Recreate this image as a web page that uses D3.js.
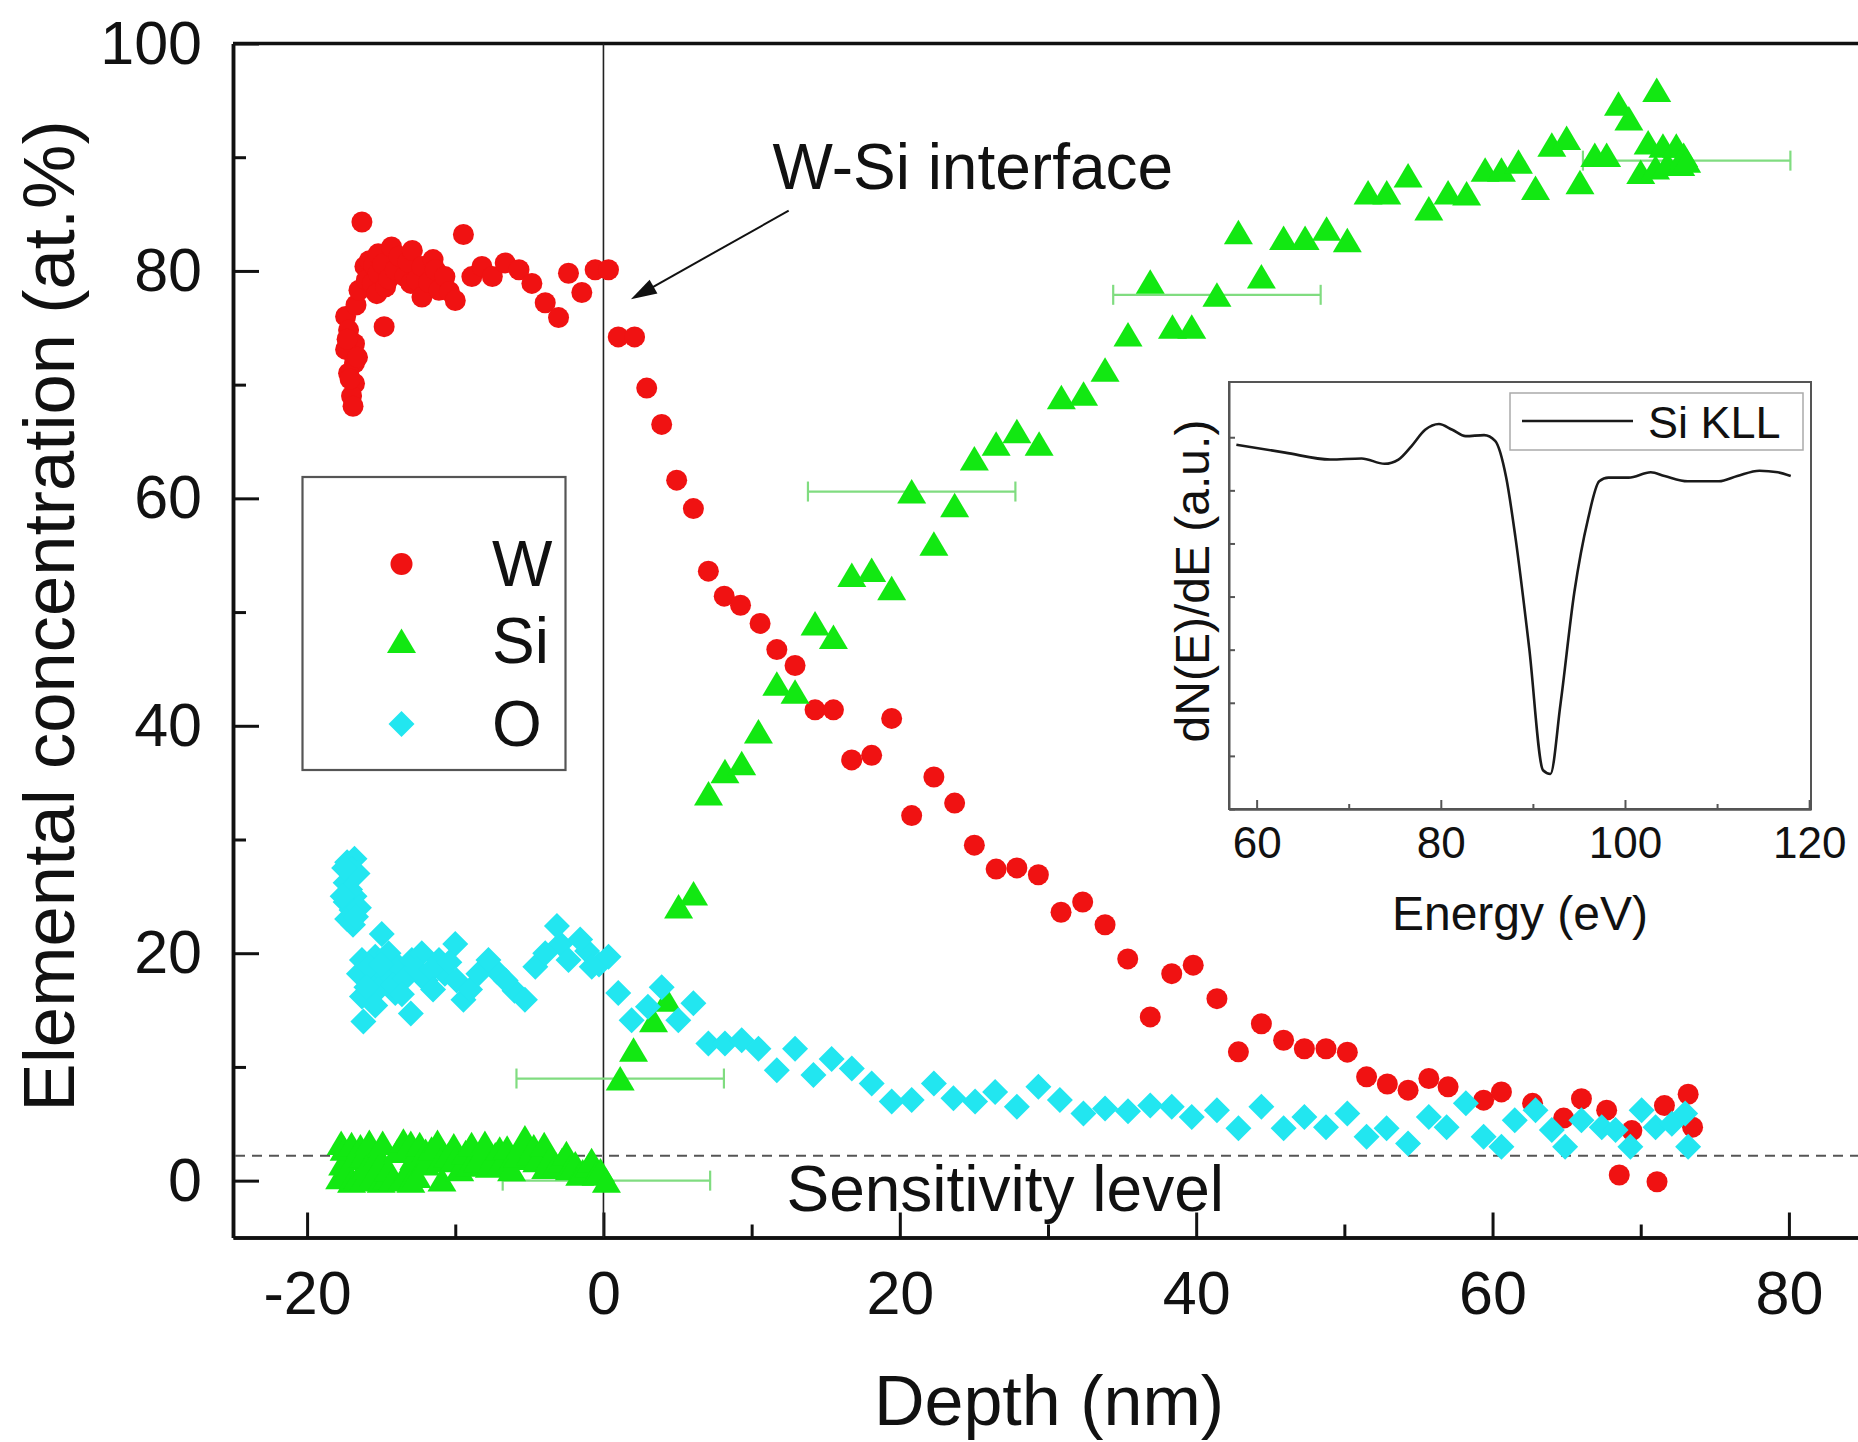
<!DOCTYPE html>
<html>
<head>
<meta charset="utf-8">
<script src="https://cdn.jsdelivr.net/npm/d3@7"></script>
<style>
body { margin: 0; background: #fff; }
svg { display: block; font-family: "Liberation Sans", Arial, Helvetica, sans-serif; }
</style>
</head>
<body>
<svg id="chart" width="1858" height="1442"></svg>
<script>
/* --- Data: --- */
// W (red circles): depth (nm), concentration (at.%)
var wDepth = [-17.4,-17.2,-16.8,-17.4,-16.8,-17.2,-16.8,-17.0,-16.9,-16.7,-17.3,-16.6,-17.1,
    -16.5,-16.3,-16.1,-16.0,-15.8,-15.6,-15.5,-15.3,-15.2,-15.2,-14.9,-14.8,-14.7,-14.5,-14.3,-14.05,-13.8,-13.4,-13.2,-13.0,-12.9,-12.6,-12.25,-12.25,-11.8,-11.5,-11.35,-11.1,-10.7,-10.4,-10.0,-9.45,
    -8.88,-8.2,-7.5,-6.63,-5.7,-4.83,-3.93,-3.03,-2.36,-1.46,-0.56,0.34,
    1.0,2.1,2.92,3.93,4.94,6.07,7.08,8.15,9.25,10.57,11.7,12.93,14.28,15.52,16.75,18.1,19.45,20.8,22.3,23.7,25.03,26.5,27.9,29.35,30.88,32.34,33.85,35.38,36.9,38.35,39.8,
    41.4,42.85,44.4,45.9,47.3,48.76,50.2,51.5,52.9,54.3,55.7,57.0,59.4,60.6,62.7,64.8,66.0,67.7,68.55,69.4,71.1,71.6,73.2,73.5];
var wConc = [76.0,74.8,73.6,73.1,71.9,71.0,70.1,69.0,68.1,77.0,74.0,72.4,70.5,
    78.3,84.3,80.4,79.2,80.9,78.9,80.5,78.0,81.5,79.8,80.6,75.1,78.6,79.3,82.1,80.1,81.3,79.5,80.8,78.9,81.8,79.2,80.4,77.7,79.0,81.0,80.1,78.3,79.5,78.2,77.4,83.2,
    79.5,80.4,79.5,80.7,80.1,78.9,77.2,75.9,79.8,78.1,80.1,80.1,
    74.2,74.2,69.7,66.5,61.6,59.1,53.6,51.4,50.6,49.0,46.7,45.3,41.4,41.4,37.0,37.4,40.65,32.1,35.5,33.2,29.5,27.4,27.5,26.9,23.6,24.5,22.5,19.5,14.4,18.2,18.95,
    16.0,11.33,13.8,12.35,11.6,11.6,11.3,9.13,8.5,7.96,8.98,8.25,7.08,7.8,6.8,5.5,7.2,6.2,0.5,4.4,-0.1,6.6,7.6,4.7];

// Si (green triangles)
var siDepth = [-17.8,-17.7,-17.6,-17.5,-17.3,-17.0,-17.0,-16.8,-16.6,-16.4,-16.2,-16.2,-16.0,-15.8,-15.5,-15.2,-15.0,-15.0,-14.9,-14.6,-14.5,-14.2,-13.9,-13.6,-13.5,-13.2,-13.0,-13.0,-12.8,-12.6,-12.4,-12.0,-12.0,-11.6,-11.2,-11.0,-10.9,-10.5,-10.1,-10.0,-9.7,-9.3,-9.0,-8.9,-8.5,-8.1,-8.0,-7.7,-7.3,-7.0,-6.9,-6.5,-6.2,-6.1,-5.8,-5.6,-5.3,-4.9,-4.7,-4.5,-4.0,-3.9,-3.6,-3.2,-2.8,-2.5,-2.3,-1.9,-1.6,-1.4,-1.0,-0.8,-0.5,-0.2,0.2,
    1.13,2.03,3.38,4.28,5.07,6.08,7.09,8.2,9.33,10.46,11.7,12.93,14.28,15.52,16.76,18.1,19.45,20.8,22.3,23.7,25.03,26.5,27.9,29.4,30.9,32.4,33.85,35.4,36.9,38.4,39.7,
    41.4,42.85,44.4,45.9,47.35,48.8,50.2,51.6,52.86,54.3,55.7,57.0,58.25,59.5,60.6,61.75,62.9,64.0,65.0,65.9,66.9,67.7,68.5,69.2,70.0,70.5,71.0,71.08,71.5,71.8,72.4,72.7,72.9,73.1];
var siConc = [0.3,3.3,1.5,2.8,0.8,3.2,0.0,2.0,0.2,3.0,0.1,2.2,1.2,3.4,0.5,2.3,0.0,1.6,3.3,0.3,1.0,0.2,2.6,0.1,3.5,0.8,0.0,3.3,2.0,0.4,3.2,1.5,2.6,2.8,3.4,1.8,0.1,2.2,3.1,2.0,1.0,2.5,1.4,3.2,1.8,2.6,3.3,1.3,2.3,2.8,1.6,2.9,1.0,2.0,2.2,3.0,3.8,2.4,3.0,1.8,3.2,1.2,2.0,1.4,1.8,2.4,1.1,1.5,0.6,0.8,1.3,1.8,0.6,0.9,0.0,
    8.98,11.5,14.1,15.9,24.1,25.25,34.05,36.0,36.7,39.5,43.7,43.0,49.0,47.8,53.25,53.7,52.1,60.6,56.0,59.4,63.5,64.8,65.9,64.8,68.9,69.2,71.3,74.4,79.05,75.1,75.1,
    77.9,83.4,79.5,82.9,82.9,83.7,82.7,86.9,86.9,88.4,85.5,86.9,86.8,88.9,88.9,89.6,87.3,91.1,91.7,87.8,90.2,90.2,94.7,93.4,88.7,91.3,89.1,95.9,91.0,89.4,91.0,89.4,90.2,89.7];

// O (cyan diamonds)
var oDepth = [-17.3,-16.8,-17.0,-16.9,-17.4,-17.1,-16.8,-17.4,-17.0,-17.3,-16.9,-16.6,-16.5,-17.6,-16.7,-17.5,
    -14.96,-16.3,-15.4,-14.5,-16.5,-15.6,-14.7,-13.8,-12.93,-12.26,-11.1,-10.0,-16.3,-15.2,-14.05,-16.2,-13.0,-12.0,-10.7,-9.45,
    -15.8,-15.0,-14.2,-13.4,-12.6,-11.6,-10.4,-16.0,-15.4,-13.6,-11.5,-9.9,-9.0,-7.2,-6.0,-2.9,-1.1,-0.3,
    -8.44,-7.76,-6.6,-5.3,-4.6,-3.93,-3.14,-2.36,-1.57,-0.79,0.34,1.0,1.9,3.0,3.93,5.05,6.07,
    7.08,8.2,9.33,10.46,11.7,12.93,14.17,15.4,16.76,18.1,19.45,20.8,22.3,23.62,25.08,26.43,27.9,29.35,30.8,32.39,33.85,35.4,36.9,38.35,39.7,
    41.4,42.85,44.4,45.9,47.3,48.76,50.2,51.5,52.85,54.3,55.7,56.9,58.2,59.4,60.6,61.5,62.9,64.0,64.9,66.0,67.37,68.3,69.3,70.06,71.0,72.1,73.0,73.2];
var oConc = [28.0,28.3,27.4,26.8,26.2,25.6,25.0,24.5,23.8,23.0,22.5,27.0,24.0,25.0,23.2,27.5,
    21.7,19.4,19.7,20.0,18.2,17.6,18.2,18.8,19.4,20.0,19.4,20.8,16.2,16.8,16.5,14.0,14.7,17.6,18.2,15.9,
    18.8,19.0,17.2,17.8,18.6,18.6,19.2,17.0,15.4,16.4,16.8,17.6,16.8,18.4,16.7,20.8,20.2,19.0,
    18.2,19.4,17.6,15.9,18.8,20.0,22.4,19.4,21.2,18.8,19.7,16.5,14.1,15.3,17.0,14.1,15.6,
    12.06,12.06,12.35,11.6,9.7,11.6,9.28,10.7,9.87,8.54,6.96,7.1,8.54,7.25,6.96,7.8,6.5,8.26,7.1,5.9,6.35,6.1,6.6,6.5,5.6,
    6.2,4.6,6.5,4.6,5.6,4.7,5.9,3.85,4.6,3.26,5.6,4.7,6.8,3.85,2.97,5.3,6.2,4.45,2.97,5.3,4.7,4.45,2.97,6.2,4.7,5.0,5.9,2.97];

// horizontal depth-resolution bars on a few Si points
var errDepth = [0.2, 1.13, 20.8, 41.4, 73.1];
var errConc = [0.0, 8.98, 60.6, 77.9, 89.7];
var errHalf = [7, 7, 7, 7, 7];

var sensitivityLevel = 2.2;

// inset: Si KLL Auger spectrum
var energy = [57.8,63.1,68.0,71.4,73.9,75.4,76.8,78.3,79.8,81.25,82.7,84.7,85.9,87.1,88.1,89.6,91.1,91.9,93.0,94.5,96.0,97.2,98.2,100.4,102.8,104.3,106.8,110.2,112.2,114.6,116.6,118.0];
var dNdE = [6.86,6.71,6.58,6.60,6.50,6.58,6.83,7.14,7.25,7.14,7.02,7.04,6.93,6.24,5.12,3.03,0.73,0.66,1.98,4.08,5.47,6.17,6.24,6.24,6.34,6.27,6.17,6.17,6.27,6.37,6.34,6.27];

// ticks
var xMajor = [-20, 0, 20, 40, 60, 80];
var xMinor = [-10, 10, 30, 50, 70];
var yMajor = [0, 20, 40, 60, 80, 100];
var yMinor = [10, 30, 50, 70, 90];
var insetXMajor = [60, 80, 100, 120];
var insetXMinor = [70, 90, 110];
var insetYTicks = [0, 1, 2, 3, 4, 5, 6, 7];

var legendNames = ["W", "Si", "O"];

/* --- Globals: --- */
var red = "#f01212";
var green = "#12e812";
var cyan = "#22e6f0";
var font = 61;

var svg = d3.select("#chart");
svg.append("rect").attr("width", 1858).attr("height", 1442).attr("fill", "#fff");

var x = d3.scaleLinear([-25, 85], [233, 1863]);
var y = d3.scaleLinear([-5, 100], [1237.5, 43.5]);

function zip(a, b) { return a.map((d, i) => [d, b[i]]); }
var plain = d => String(d); // hyphen minus like the original, not the unicode one

// marker shapes
var triPath = "M0,-12.5L14.5,12L-14.5,12Z";
var diaPath = "M0,-13L13,0L0,13L-13,0Z";

/* --- Main axes --- */
function styleAxis(g, w) {
    g.select(".domain").attr("stroke", "#111").attr("stroke-width", 3.5);
    g.selectAll(".tick line").attr("stroke", "#111").attr("stroke-width", w);
    g.selectAll("text").attr("fill", "#111").attr("font-size", font);
}

svg.append("g").attr("transform", "translate(0,1237.5)")
    .call(d3.axisBottom(x).tickValues(xMajor).tickFormat(plain).tickSizeInner(-25).tickSizeOuter(0).tickPadding(33))
    .call(g => styleAxis(g, 3))
    .attr("font-family", null);
svg.append("g").attr("transform", "translate(0,1237.5)")
    .call(d3.axisBottom(x).tickValues(xMinor).tickSizeInner(-13).tickSizeOuter(0).tickFormat(""))
    .call(g => styleAxis(g, 3));

svg.append("g").attr("transform", "translate(233,0)")
    .call(d3.axisLeft(y).tickValues(yMajor).tickFormat(plain).tickSizeInner(-26).tickSizeOuter(0).tickPadding(31))
    .call(g => styleAxis(g, 3))
    .attr("font-family", null);
svg.append("g").attr("transform", "translate(233,0)")
    .call(d3.axisLeft(y).tickValues(yMinor).tickSizeInner(-13).tickSizeOuter(0).tickFormat(""))
    .call(g => styleAxis(g, 3));

// top frame line
svg.append("line").attr("x1", 233).attr("x2", 1863).attr("y1", y(100)).attr("y2", y(100))
    .attr("stroke", "#111").attr("stroke-width", 3.5);

// axis titles
svg.append("text").attr("x", 1049).attr("y", 1425).attr("text-anchor", "middle")
    .attr("font-size", 70).attr("fill", "#111").text("Depth (nm)");
svg.append("text").attr("transform", "translate(74,616) rotate(-90)").attr("text-anchor", "middle")
    .attr("font-size", 72.5).attr("fill", "#111").text("Elemental concentration (at.%)");

/* --- Interface line and sensitivity level --- */
svg.append("line").attr("x1", x(0)).attr("x2", x(0)).attr("y1", y(100)).attr("y2", y(-5))
    .attr("stroke", "#222").attr("stroke-width", 1.6);
svg.append("line").attr("x1", 235).attr("x2", 1858).attr("y1", y(sensitivityLevel)).attr("y2", y(sensitivityLevel))
    .attr("stroke", "#555").attr("stroke-width", 2).attr("stroke-dasharray", "10,7");
svg.append("text").attr("x", x(12.35)).attr("y", y(-2.7))
    .attr("font-size", 64).attr("fill", "#111").text("Sensitivity level");

/* --- Error bars --- */
var errs = svg.append("g").attr("stroke", "#80dc80").attr("stroke-width", 2.2).attr("fill", "none")
    .selectAll("g").data(errDepth.map((d, i) => ({x: d, y: errConc[i], e: errHalf[i]}))).join("g");
errs.append("line").attr("x1", d => x(d.x - d.e)).attr("x2", d => x(d.x + d.e))
    .attr("y1", d => y(d.y)).attr("y2", d => y(d.y));
errs.append("line").attr("x1", d => x(d.x - d.e)).attr("x2", d => x(d.x - d.e))
    .attr("y1", d => y(d.y) - 10).attr("y2", d => y(d.y) + 10);
errs.append("line").attr("x1", d => x(d.x + d.e)).attr("x2", d => x(d.x + d.e))
    .attr("y1", d => y(d.y) - 10).attr("y2", d => y(d.y) + 10);

/* --- Scatter series --- */
svg.append("g").selectAll("circle").data(zip(wDepth, wConc)).join("circle")
    .attr("cx", d => x(d[0])).attr("cy", d => y(d[1])).attr("r", 10.5).attr("fill", red);

svg.append("g").selectAll("path").data(zip(siDepth, siConc)).join("path")
    .attr("d", triPath).attr("transform", d => "translate(" + x(d[0]) + "," + y(d[1]) + ")").attr("fill", green);

svg.append("g").selectAll("path").data(zip(oDepth, oConc)).join("path")
    .attr("d", diaPath).attr("transform", d => "translate(" + x(d[0]) + "," + y(d[1]) + ")").attr("fill", cyan);

/* --- Annotation arrow --- */
var ax0 = x(12.5), ay0 = y(85.3), ax1 = x(1.85), ay1 = y(77.5);
var ang = Math.atan2(ay1 - ay0, ax1 - ax0);
svg.append("line").attr("x1", ax0).attr("y1", ay0)
    .attr("x2", ax1 - 18 * Math.cos(ang)).attr("y2", ay1 - 18 * Math.sin(ang))
    .attr("stroke", "#111").attr("stroke-width", 2);
svg.append("path")
    .attr("d", "M0,0L-26,-8L-26,8Z")
    .attr("transform", "translate(" + ax1 + "," + ay1 + ") rotate(" + (ang * 180 / Math.PI) + ")")
    .attr("fill", "#111");
svg.append("text").attr("x", x(11.4)).attr("y", y(87.2))
    .attr("font-size", 64).attr("fill", "#111").text("W-Si interface");

/* --- Legend --- */
var legend = svg.append("g");
legend.append("rect").attr("x", 302.5).attr("y", 477).attr("width", 263).attr("height", 293)
    .attr("fill", "#fff").attr("stroke", "#555").attr("stroke-width", 2.2);
var legY = [564, 641, 724];
legend.append("circle").attr("cx", 401.5).attr("cy", legY[0]).attr("r", 11).attr("fill", red);
legend.append("path").attr("d", triPath).attr("transform", "translate(401.5," + legY[1] + ")").attr("fill", green);
legend.append("path").attr("d", diaPath).attr("transform", "translate(401.5," + legY[2] + ")").attr("fill", cyan);
legend.selectAll("text").data(legendNames).join("text")
    .attr("x", 492).attr("y", (d, i) => legY[i] + 22)
    .attr("font-size", 64).attr("fill", "#111").text(d => d);

/* --- Inset: Si KLL spectrum --- */
var ix = d3.scaleLinear([57, 120.2], [1229, 1811]);
var iy = d3.scaleLinear([0, 8.04], [809, 382]);
var inset = svg.append("g");

function styleInset(g) {
    g.select(".domain").attr("stroke", "#555").attr("stroke-width", 2);
    g.selectAll(".tick line").attr("stroke", "#555").attr("stroke-width", 2);
    g.selectAll("text").attr("fill", "#111").attr("font-size", 44);
}
inset.append("rect").attr("x", 1229).attr("y", 382).attr("width", 582).attr("height", 427)
    .attr("fill", "#fff").attr("stroke", "#555").attr("stroke-width", 2);
inset.append("g").attr("transform", "translate(0,809)")
    .call(d3.axisBottom(ix).tickValues(insetXMajor).tickFormat(plain).tickSizeInner(-9).tickSizeOuter(0).tickPadding(18))
    .call(styleInset).attr("font-family", null);
inset.append("g").attr("transform", "translate(0,809)")
    .call(d3.axisBottom(ix).tickValues(insetXMinor).tickSizeInner(-5).tickSizeOuter(0).tickFormat(""))
    .call(styleInset);
inset.append("g").attr("transform", "translate(1229,0)")
    .call(d3.axisLeft(iy).tickValues(insetYTicks).tickSizeInner(-6).tickSizeOuter(0).tickFormat(""))
    .call(styleInset);

inset.append("path").datum(zip(energy, dNdE))
    .attr("d", d3.line().x(d => ix(d[0])).y(d => iy(d[1])).curve(d3.curveMonotoneX))
    .attr("fill", "none").attr("stroke", "#1a1a1a").attr("stroke-width", 2.6);

inset.append("rect").attr("x", 1510).attr("y", 393).attr("width", 293).attr("height", 57)
    .attr("fill", "#fff").attr("stroke", "#aaa").attr("stroke-width", 1.5);
inset.append("line").attr("x1", 1522).attr("x2", 1633).attr("y1", 421).attr("y2", 421)
    .attr("stroke", "#1a1a1a").attr("stroke-width", 2.6);
inset.append("text").attr("x", 1648).attr("y", 438).attr("font-size", 45).attr("fill", "#111").text("Si KLL");

inset.append("text").attr("x", 1520).attr("y", 930).attr("text-anchor", "middle")
    .attr("font-size", 48).attr("fill", "#111").text("Energy (eV)");
inset.append("text").attr("transform", "translate(1209,581) rotate(-90)").attr("text-anchor", "middle")
    .attr("font-size", 48).attr("fill", "#111").text("dN(E)/dE (a.u.)");
</script>
</body>
</html>
